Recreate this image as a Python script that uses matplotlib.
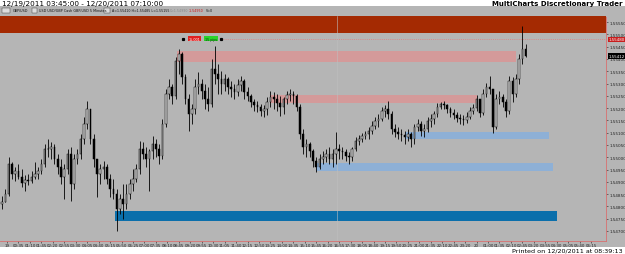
import matplotlib
matplotlib.use("Agg")
import matplotlib.pyplot as plt
import matplotlib.transforms as mtransforms
from matplotlib.patches import Rectangle
import numpy as np

# ---------------- data (GBP/USD, 10-minute sampled candles) ----------------
open0 = 1.54810
highs = [1.54842, 1.54871, 1.55001, 1.54981, 1.54960, 1.54973, 1.54952, 1.54928, 1.54932, 1.54944,
         1.54981, 1.54960, 1.54993, 1.55054, 1.55074, 1.55062, 1.55054, 1.55013, 1.54993, 1.54973,
         1.55034, 1.55042, 1.55013, 1.55034, 1.55095, 1.55164, 1.55229, 1.55197, 1.55095, 1.54993,
         1.54973, 1.54985, 1.54973, 1.54932, 1.54912, 1.54871, 1.54851, 1.54891, 1.54891, 1.54912,
         1.54952, 1.54973, 1.55066, 1.55062, 1.55042, 1.55034, 1.55087, 1.55074, 1.55054, 1.55156,
         1.55278, 1.55319, 1.55298, 1.55408, 1.55441, 1.55429, 1.55339, 1.55258, 1.55217, 1.55319,
         1.55347, 1.55319, 1.55298, 1.55286, 1.55400, 1.55453, 1.55380, 1.55351, 1.55339, 1.55327,
         1.55311, 1.55298, 1.55319, 1.55331, 1.55319, 1.55286, 1.55258, 1.55237, 1.55229, 1.55217,
         1.55213, 1.55245, 1.55270, 1.55266, 1.55258, 1.55249, 1.55245, 1.55270, 1.55278, 1.55270,
         1.55258, 1.55217, 1.55115, 1.55074, 1.55062, 1.55034, 1.55001, 1.55013, 1.55026, 1.55034,
         1.55042, 1.55034, 1.55103, 1.55054, 1.55042, 1.55034, 1.55022, 1.55042, 1.55083, 1.55091,
         1.55099, 1.55107, 1.55123, 1.55148, 1.55164, 1.55176, 1.55205, 1.55213, 1.55229, 1.55188,
         1.55135, 1.55123, 1.55115, 1.55107, 1.55115, 1.55103, 1.55135, 1.55156, 1.55148, 1.55135,
         1.55164, 1.55176, 1.55188, 1.55221, 1.55225, 1.55229, 1.55217, 1.55205, 1.55197, 1.55184,
         1.55176, 1.55172, 1.55184, 1.55205, 1.55217, 1.55254, 1.55237, 1.55278, 1.55302, 1.55331,
         1.55278, 1.55258, 1.55270, 1.55258, 1.55237, 1.55331, 1.55327, 1.55339, 1.55420, 1.55534,
         1.55461]
lows = [1.54790, 1.54818, 1.54842, 1.54912, 1.54904, 1.54912, 1.54879, 1.54863, 1.54887, 1.54895,
        1.54912, 1.54912, 1.54932, 1.54960, 1.55001, 1.54993, 1.54973, 1.54932, 1.54891, 1.54830,
        1.54932, 1.54822, 1.54871, 1.54973, 1.54993, 1.55054, 1.55115, 1.55054, 1.54960, 1.54838,
        1.54891, 1.54912, 1.54891, 1.54838, 1.54830, 1.54700, 1.54769, 1.54749, 1.54790, 1.54830,
        1.54863, 1.54899, 1.54932, 1.54993, 1.54960, 1.54863, 1.54993, 1.55001, 1.54973, 1.54993,
        1.55123, 1.55237, 1.55217, 1.55237, 1.55339, 1.55298, 1.55217, 1.55107, 1.55135, 1.55176,
        1.55258, 1.55237, 1.55197, 1.55188, 1.55205, 1.55298, 1.55258, 1.55258, 1.55270, 1.55258,
        1.55245, 1.55237, 1.55249, 1.55270, 1.55237, 1.55229, 1.55205, 1.55188, 1.55184, 1.55168,
        1.55164, 1.55172, 1.55205, 1.55197, 1.55188, 1.55168, 1.55176, 1.55217, 1.55229, 1.55217,
        1.55188, 1.55074, 1.55013, 1.55001, 1.55001, 1.54960, 1.54940, 1.54952, 1.54973, 1.54981,
        1.54973, 1.54960, 1.54973, 1.54993, 1.54993, 1.54985, 1.54973, 1.54985, 1.55026, 1.55050,
        1.55062, 1.55074, 1.55074, 1.55095, 1.55115, 1.55123, 1.55148, 1.55164, 1.55156, 1.55095,
        1.55083, 1.55074, 1.55066, 1.55054, 1.55066, 1.55042, 1.55054, 1.55107, 1.55087, 1.55083,
        1.55103, 1.55123, 1.55135, 1.55164, 1.55197, 1.55197, 1.55180, 1.55164, 1.55156, 1.55144,
        1.55135, 1.55131, 1.55140, 1.55156, 1.55176, 1.55188, 1.55164, 1.55172, 1.55245, 1.55258,
        1.55099, 1.55115, 1.55217, 1.55205, 1.55164, 1.55176, 1.55225, 1.55245, 1.55298, 1.55380,
        1.55408]
closes = [1.54818, 1.54851, 1.54973, 1.54932, 1.54944, 1.54920, 1.54895, 1.54908, 1.54904, 1.54920,
          1.54932, 1.54944, 1.54973, 1.55034, 1.55034, 1.55042, 1.54993, 1.54960, 1.54920, 1.54952,
          1.55013, 1.54891, 1.54993, 1.55013, 1.55074, 1.55135, 1.55197, 1.55074, 1.54993, 1.54932,
          1.54952, 1.54960, 1.54912, 1.54871, 1.54851, 1.54790, 1.54830, 1.54810, 1.54851, 1.54891,
          1.54912, 1.54952, 1.55034, 1.55013, 1.54993, 1.55026, 1.55054, 1.55034, 1.55005, 1.55135,
          1.55258, 1.55286, 1.55249, 1.55392, 1.55420, 1.55327, 1.55237, 1.55176, 1.55197, 1.55286,
          1.55298, 1.55270, 1.55237, 1.55217, 1.55359, 1.55339, 1.55319, 1.55298, 1.55319, 1.55286,
          1.55278, 1.55266, 1.55294, 1.55311, 1.55266, 1.55249, 1.55225, 1.55213, 1.55205, 1.55188,
          1.55197, 1.55225, 1.55245, 1.55237, 1.55221, 1.55205, 1.55237, 1.55254, 1.55258, 1.55249,
          1.55205, 1.55095, 1.55042, 1.55054, 1.55026, 1.54985, 1.54960, 1.54993, 1.55001, 1.55013,
          1.54993, 1.55013, 1.55034, 1.55026, 1.55022, 1.55005, 1.55001, 1.55034, 1.55066, 1.55074,
          1.55087, 1.55095, 1.55107, 1.55127, 1.55148, 1.55156, 1.55188, 1.55197, 1.55176, 1.55115,
          1.55103, 1.55095, 1.55091, 1.55083, 1.55095, 1.55074, 1.55123, 1.55135, 1.55107, 1.55115,
          1.55148, 1.55156, 1.55176, 1.55205, 1.55217, 1.55213, 1.55197, 1.55180, 1.55172, 1.55160,
          1.55156, 1.55152, 1.55164, 1.55188, 1.55201, 1.55237, 1.55180, 1.55258, 1.55286, 1.55278,
          1.55123, 1.55237, 1.55245, 1.55225, 1.55188, 1.55311, 1.55258, 1.55319, 1.55400, 1.55441,
          1.55412]

# zones (price lo, price hi, start bar, end bar in 5-minute bar units)
zone_lo = [1.55505, 1.55388, 1.55221, 1.55074, 1.54944, 1.54741]
zone_hi = [1.55620, 1.55433, 1.55254, 1.55103, 1.54977, 1.54781]
zone_start = [-5, 107, 164, 246, 192, 69]
zone_end = [375, 314, 290, 334, 337, 339]
zone_colors = ["#a42a02", "#d49a9a", "#d49a9a", "#8eb0d6", "#8eb0d6", "#0b6fab"]

target_price = 1.55480
last_price = closes[-1]

time_labels = ["19", "00:35", "01:10", "01:45", "02:20", "02:55", "03:30", "04:05", "04:40",
               "05:15", "05:50", "06:25", "07:00", "07:35", "08:10", "08:45", "09:20", "09:55",
               "10:30", "11:05", "11:40", "12:15", "12:50", "13:25", "14:00", "14:35", "15:10",
               "15:45", "16:20", "16:55", "17:30", "18:05", "18:40", "19:15", "19:50", "20:25",
               "21:00", "21:35", "22:10", "22:45", "23:20", "20", "01:00", "01:35", "02:10",
               "02:45", "03:20", "03:55", "04:30", "05:05", "05:40", "06:15"]
price_ticks = [1.54700, 1.54750, 1.54800, 1.54850, 1.54900, 1.54950, 1.55000, 1.55050, 1.55100,
               1.55150, 1.55200, 1.55250, 1.55300, 1.55350, 1.55400, 1.55450, 1.55500, 1.55550]

# ---------------- figure ----------------
W, H = 625, 255
fig = plt.figure(figsize=(W / 100, H / 100), dpi=100)
fig.patch.set_facecolor("white")
GREY = "#b5b5b5"

def fx(px):
    return px / W

def fy(py):
    return 1 - py / H

fig.add_artist(Rectangle((0, fy(248)), 1, (248 - 7) / H, transform=fig.transFigure,
                         facecolor=GREY, edgecolor="none", zorder=0))

ax = fig.add_axes([0, fy(242), 606 / W, (242 - 17) / H])
ax.set_facecolor(GREY)
ax.set_xlim(-1.3, 369.1)
ax.set_ylim(1.54659, 1.55575)

# zones
for lo, hi, s, e, c in zip(zone_lo, zone_hi, zone_start, zone_end, zone_colors):
    ax.add_patch(Rectangle((s, lo), e - s, hi - lo, facecolor=c, edgecolor="none", zorder=1))

# session separator (faint)
ax.axvline(204.7, color="#bfbfbf", lw=0.4, zorder=1.5)

# dotted target line
ax.hlines(target_price, 135, 370, colors="#d68a8a", linestyles=(0, (1, 1.2)), lw=0.7, zorder=2)

# candles
n = len(closes)
xs = 2 * np.arange(n)
opens = [open0] + closes[:-1]
ax.vlines(xs, lows, highs, color="black", lw=0.6, zorder=3)
bottoms = np.minimum(opens, closes)
heights = np.maximum(np.abs(np.array(closes) - np.array(opens)), 0.000012)
faces = ["#cfcfcf" if c >= o else "black" for o, c in zip(opens, closes)]
ax.bar(xs, heights, bottom=bottoms, width=1.0, color=faces, edgecolor="black", lw=0.35, zorder=4)

# measure label boxes
ax.text(117.5, 1.55483, "15.001", fontsize=2.4, color="white", ha="center", va="center",
        zorder=6, bbox=dict(boxstyle="square,pad=0.25", fc="#e02020", ec="none"))
ax.text(127.5, 1.55483, "15 pips", fontsize=2.4, color="#103010", ha="center", va="center",
        zorder=6, bbox=dict(boxstyle="square,pad=0.25", fc="#2ad42a", ec="none"))
ax.plot([110.5, 133.5], [1.55483, 1.55483], ls="none", marker="s", ms=1.3, color="black", zorder=6)

# axes styling
for sp in ["top", "left"]:
    ax.spines[sp].set_visible(False)
for sp in ["right", "bottom"]:
    ax.spines[sp].set_color("#d87070")
    ax.spines[sp].set_linestyle((0, (1, 1)))
    ax.spines[sp].set_linewidth(0.6)

ax.yaxis.tick_right()
ax.set_yticks(price_ticks)
ax.set_yticklabels([f"{v:.5f}" for v in price_ticks], fontsize=3.0, color="#222222")
ax.tick_params(axis="y", length=1.2, width=0.4, pad=1.2, colors="#222222")

ax.set_xticks(3 + 7 * np.arange(len(time_labels)))
ax.set_xticklabels(time_labels, fontsize=2.9, color="#222222")
ax.tick_params(axis="x", length=1.2, width=0.4, pad=0.6, colors="#222222")

# right-axis price flags
blend = mtransforms.blended_transform_factory(ax.transAxes, ax.transData)
ax.text(1.004, target_price, f"{target_price:.5f}", transform=blend, fontsize=2.9, color="white",
        ha="left", va="center", clip_on=False, zorder=7,
        bbox=dict(boxstyle="square,pad=0.2", fc="#c81e1e", ec="none"))
ax.text(1.004, last_price, f"{last_price:.5f}", transform=blend, fontsize=2.9, color="white",
        ha="left", va="center", clip_on=False, zorder=7,
        bbox=dict(boxstyle="square,pad=0.2", fc="black", ec="none"))

# header texts
fig.text(fx(2), fy(4), "12/19/2011 03:45:00 - 12/20/2011 07:10:00", fontsize=5.2,
         ha="left", va="center", color="black")
fig.text(fx(622), fy(4), "MultiCharts Discretionary Trader", fontsize=5.0, fontweight="bold",
         ha="right", va="center", color="black")

hy = fy(11.5)
fig.add_artist(Rectangle((fx(2), fy(14)), fx(8), 5 / H, transform=fig.transFigure,
                         facecolor="#dddddd", edgecolor="#333333", lw=0.3))
fig.text(fx(13), hy, "GBP/USD", fontsize=2.4, ha="left", va="center", color="#111111")
fig.add_artist(Rectangle((fx(32), fy(14)), fx(5), 5 / H, transform=fig.transFigure,
                         facecolor="#dddddd", edgecolor="#333333", lw=0.3))
fig.text(fx(39), hy, "USD USD/GBP Cash GBP/USD 5 Minutes", fontsize=2.4, ha="left",
         va="center", color="#111111")
fig.add_artist(Rectangle((fx(104), fy(14)), fx(6), 5 / H, transform=fig.transFigure,
                         facecolor="#dddddd", edgecolor="#333333", lw=0.3))
fig.text(fx(112), hy, "A=1.55410 H=1.55485 L=1.55155", fontsize=2.3, ha="left",
         va="center", color="#111111")
fig.text(fx(170), hy, "C=1.54990", fontsize=2.3, ha="left", va="center", color="#888888")
fig.text(fx(189), hy, "-1.54950", fontsize=2.3, ha="left", va="center", color="#cc1111")
fig.text(fx(206), hy, "V=0", fontsize=2.3, ha="left", va="center", color="#111111")

fig.text(fx(623), fy(251.5), "Printed on 12/20/2011 at 08:39:13", fontsize=4.6,
         ha="right", va="center", color="black")

fig.savefig("out.png", dpi=100, facecolor="white")
